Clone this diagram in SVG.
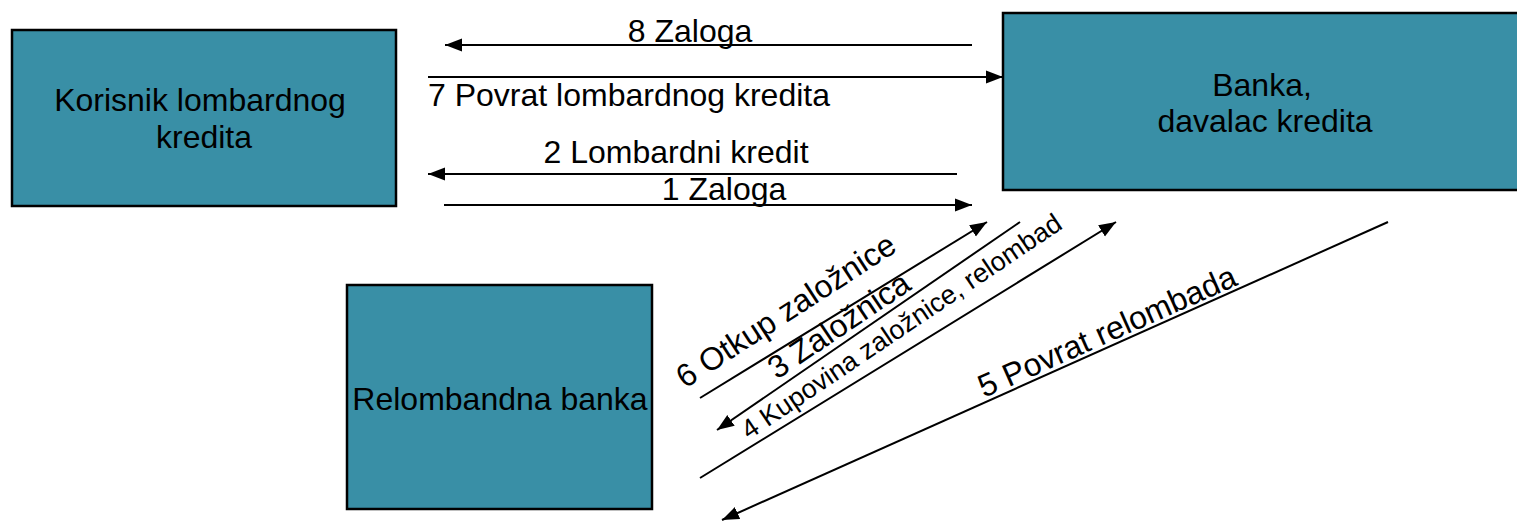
<svg xmlns="http://www.w3.org/2000/svg" width="1517" height="522" viewBox="0 0 1517 522">
<style>
.box{fill:#398fa6;stroke:#000;stroke-width:2.5}
.t{font-family:"Liberation Sans",Arial,sans-serif;font-size:32px;fill:#000}
.tm{text-anchor:middle}
.s{font-size:26.8px}
.c{stroke:#000;stroke-width:2;fill:none;marker-end:url(#ah)}
</style>
<defs>
<marker id="ah" markerUnits="userSpaceOnUse" markerWidth="18" markerHeight="14" refX="17" refY="7" orient="auto">
<path d="M0,0.5 L17,7 L0,13.5 z" fill="#000"/>
</marker>
</defs>
<rect x="0" y="0" width="1517" height="522" fill="#fff"/>
<g id="korisnik">
<rect class="box" x="12" y="30" width="384" height="176"/>
<text class="t tm" x="200" y="111">Korisnik lombardnog</text>
<text class="t tm" x="204" y="148">kredita</text>
</g>
<g id="banka">
<rect class="box" x="1003" y="13" width="530" height="177"/>
<text class="t tm" x="1262" y="96">Banka,</text>
<text class="t tm" x="1265" y="132">davalac kredita</text>
</g>
<g id="relombandna">
<rect class="box" x="347" y="285" width="305" height="224"/>
<text class="t tm" x="500" y="410">Relombandna banka</text>
</g>
<g id="connectors">
<path class="c" d="M972,45 L445,45"/>
<path class="c" d="M428,77 L1003,77"/>
<path class="c" d="M957,174 L428,174"/>
<path class="c" d="M444,205 L972,205"/>
<path class="c" d="M700,398 L987,222"/>
<path class="c" d="M1020,222 L717,430"/>
<path class="c" d="M700,478 L1116,222"/>
<path class="c" d="M1388,222 L722,520"/>
<text class="t tm" x="690" y="42">8 Zaloga</text>
<text class="t" x="428" y="106">7 Povrat lombardnog kredita</text>
<text class="t tm" x="676" y="163">2 Lombardni kredit</text>
<text class="t tm" x="724" y="200">1 Zaloga</text>
<text class="t" transform="translate(685,389) rotate(-33)">6 Otkup založnice</text>
<text class="t" transform="translate(777,380) rotate(-34)">3 Založnica</text>
<text class="t s" transform="translate(749,440) rotate(-34)">4 Kupovina založnice, relombad</text>
<text class="t" transform="translate(984,398) rotate(-24)">5 Povrat relombada</text>
</g>
</svg>
